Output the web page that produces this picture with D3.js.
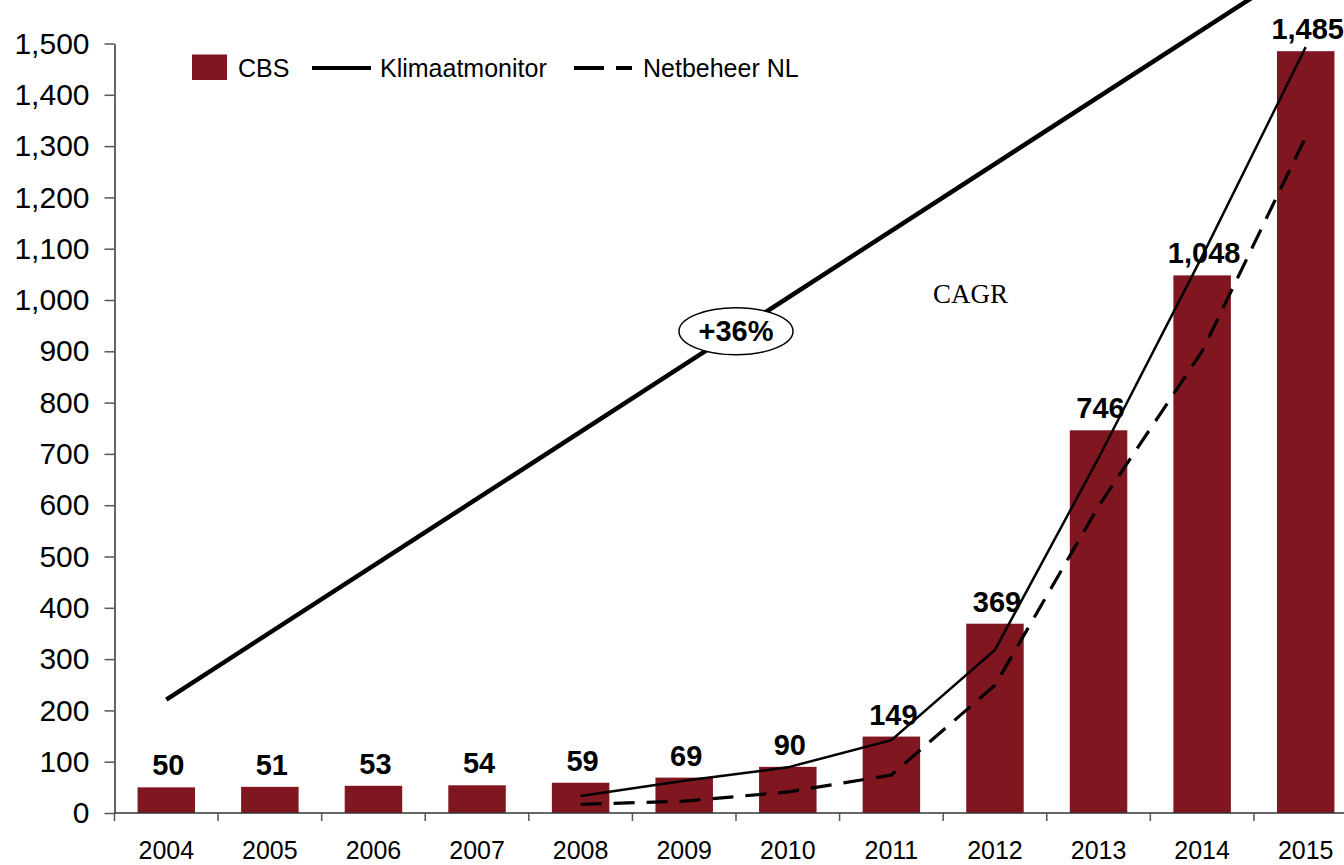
<!DOCTYPE html>
<html>
<head>
<meta charset="utf-8">
<script src="https://cdn.jsdelivr.net/npm/d3@7"></script>
<style>
  html, body { margin: 0; padding: 0; background: #fff; }
  svg { display: block; }
  text { font-family: "Liberation Sans", Arial, Helvetica, sans-serif; fill: #000; }
</style>
</head>
<body>
<svg id="chart" width="1344" height="865"></svg>
<script>
// Years on the category axis
const years = ["2004", "2005", "2006", "2007", "2008", "2009", "2010", "2011", "2012", "2013", "2014", "2015"];
// CBS bars
const cbsValues = [50, 51, 53, 54, 59, 69, 90, 149, 369, 746, 1048, 1485];
// Klimaatmonitor (thin solid line) and Netbeheer NL (dashed line), 2008 onward
const lineYears = ["2008", "2009", "2010", "2011", "2012", "2013", "2014", "2015"];
const klimaatValues = [33, 63, 89, 142, 318, 692, 1085, 1493];
const netbeheerValues = [17, 23, 41, 74, 249, 598, 900, 1318];
// Growth arrow drawn across the chart
const trendYears = ["2004", "2015"];
const trendValues = [221, 1657];
const cagrValue = "+36%";
const cagrTitle = "CAGR";
// Value axis ticks
const yTicks = [0, 100, 200, 300, 400, 500, 600, 700, 800, 900, 1000, 1100, 1200, 1300, 1400, 1500];
const legendLabels = ["CBS", "Klimaatmonitor", "Netbeheer NL"];

const barColor = "#7f1620";
const svg = d3.select("#chart");

const x = d3.scaleBand()
  .domain(years)
  .range([114.5, 1357.5])
  .paddingInner(0.445)
  .paddingOuter(0.2225);
const cx = d => x(d) + x.bandwidth() / 2;

const y = d3.scaleLinear().domain([0, 1500]).range([813, 43.5]);

// Bars
svg.append("g").selectAll("rect")
  .data(years.map((yr, i) => ({ yr, v: cbsValues[i] })))
  .join("rect")
  .attr("x", d => x(d.yr))
  .attr("width", x.bandwidth())
  .attr("y", d => y(d.v))
  .attr("height", d => y(0) - y(d.v))
  .attr("fill", barColor);

// Y axis
const yAxis = svg.append("g")
  .attr("transform", `translate(${x.range()[0]},0)`)
  .call(d3.axisLeft(y).tickValues(yTicks).tickFormat(d3.format(",")).tickSize(10).tickSizeOuter(0).tickPadding(15));
yAxis.select(".domain").attr("stroke", "#333").attr("stroke-width", 1.5);
yAxis.selectAll(".tick line").attr("stroke", "#555").attr("stroke-width", 1.5);
yAxis.selectAll(".tick text")
  .attr("font-size", 30)
  .attr("font-family", "'Liberation Sans', Arial, sans-serif")
  .attr("fill", "#000");

// X axis: labels at band centres, ticks at band boundaries
const xAxis = svg.append("g")
  .attr("transform", `translate(0,${y(0)})`)
  .call(d3.axisBottom(x).tickSize(0).tickSizeOuter(0).tickPadding(28));
xAxis.select(".domain").remove();
xAxis.selectAll(".tick text")
  .attr("font-size", 25)
  .attr("font-family", "'Liberation Sans', Arial, sans-serif")
  .attr("fill", "#000");
svg.append("line")
  .attr("x1", x.range()[0]).attr("x2", x.range()[1])
  .attr("y1", y(0)).attr("y2", y(0))
  .attr("stroke", "#333").attr("stroke-width", 1.5);
const gap = (x.step() - x.bandwidth()) / 2;
const boundaries = years.map(d => x(d) - gap).concat([x(years[years.length - 1]) + x.bandwidth() + gap]);
svg.append("g").selectAll("line")
  .data(boundaries)
  .join("line")
  .attr("x1", d => d).attr("x2", d => d)
  .attr("y1", y(0)).attr("y2", y(0) + 8)
  .attr("stroke", "#555").attr("stroke-width", 1.5);

// Lines
const line = d3.line().x(d => cx(d.yr)).y(d => y(d.v));
svg.append("path")
  .datum(lineYears.map((yr, i) => ({ yr, v: netbeheerValues[i] })))
  .attr("d", line)
  .attr("fill", "none").attr("stroke", "#000")
  .attr("stroke-width", 3.2).attr("stroke-dasharray", "21,12");
svg.append("path")
  .datum(lineYears.map((yr, i) => ({ yr, v: klimaatValues[i] })))
  .attr("d", line)
  .attr("fill", "none").attr("stroke", "#000")
  .attr("stroke-width", 2.5);

// Value labels
svg.append("g").selectAll("text")
  .data(years.map((yr, i) => ({ yr, v: cbsValues[i] })))
  .join("text")
  .attr("x", d => cx(d.yr) + 2)
  .attr("y", d => y(d.v) - 12)
  .attr("text-anchor", "middle")
  .attr("font-size", 29)
  .attr("font-weight", "bold")
  .text(d => d3.format(",")(d.v));

// Growth arrow
const trend = trendYears.map((yr, i) => ({ yr, v: trendValues[i] }));
svg.append("path")
  .datum(trend)
  .attr("d", line)
  .attr("fill", "none").attr("stroke", "#000")
  .attr("stroke-width", 4.5);

// CAGR bubble on the arrow, between 2009 and 2010
const tx0 = cx(trendYears[0]), ty0 = y(trendValues[0]);
const tx1 = cx(trendYears[1]), ty1 = y(trendValues[1]);
const ex = (cx("2009") + cx("2010")) / 2;
const ey = ty0 + (ex - tx0) / (tx1 - tx0) * (ty1 - ty0);
svg.append("ellipse")
  .attr("cx", ex).attr("cy", ey)
  .attr("rx", 57).attr("ry", 23.5)
  .attr("fill", "#fff").attr("stroke", "#000").attr("stroke-width", 1.5);
svg.append("text")
  .attr("x", ex).attr("y", ey + 10)
  .attr("text-anchor", "middle")
  .attr("font-size", 29).attr("font-weight", "bold")
  .text(cagrValue);
svg.append("text")
  .attr("x", 933).attr("y", 303)
  .style("font-family", "'Liberation Serif', 'Times New Roman', serif")
  .attr("font-size", 27)
  .text(cagrTitle);

// Legend
const lg = svg.append("g");
lg.append("rect").attr("x", 192).attr("y", 54.5).attr("width", 35).attr("height", 25.5).attr("fill", barColor);
lg.append("text").attr("x", 238).attr("y", 77).attr("font-size", 25).text(legendLabels[0]);
lg.append("line").attr("x1", 312).attr("x2", 371).attr("y1", 68).attr("y2", 68)
  .attr("stroke", "#000").attr("stroke-width", 4);
lg.append("text").attr("x", 380).attr("y", 77).attr("font-size", 25).text(legendLabels[1]);
lg.append("line").attr("x1", 574).attr("x2", 632).attr("y1", 68).attr("y2", 68)
  .attr("stroke", "#000").attr("stroke-width", 4).attr("stroke-dasharray", "30,12");
lg.append("text").attr("x", 643).attr("y", 77).attr("font-size", 25).text(legendLabels[2]);
</script>
</body>
</html>
